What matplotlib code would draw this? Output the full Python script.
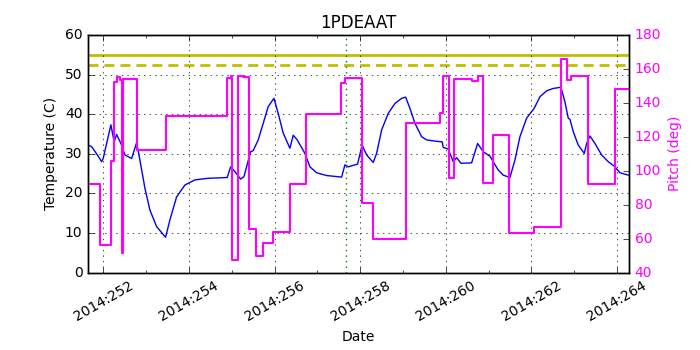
import numpy as np
import matplotlib
matplotlib.use('Agg')
import matplotlib.pyplot as plt
from matplotlib.ticker import MultipleLocator, FuncFormatter

plt.style.use('classic')
plt.rcParams['figure.facecolor'] = 'white'
plt.rcParams['savefig.facecolor'] = 'white'
plt.rcParams['font.size'] = 10

# temperature (1PDEAAT), day of year 2014
temp_days = [251.645, 251.724, 251.879, 251.958, 251.995, 252.175, 252.252, 252.308,
             252.425, 252.502, 252.659, 252.776, 252.853, 252.970, 253.086, 253.243,
             253.453, 253.554, 253.710, 253.904, 254.138, 254.449, 254.893, 254.972,
             255.072, 255.206, 255.283, 255.439, 255.500, 255.617, 255.734, 255.850,
             255.984, 256.084, 256.201, 256.357, 256.435, 256.528, 256.708, 256.825,
             256.981, 257.215, 257.565, 257.643, 257.720, 257.939, 258.044, 258.150,
             258.304, 258.383, 258.500, 258.654, 258.811, 258.967, 259.061, 259.161,
             259.278, 259.435, 259.551, 259.745, 259.916, 259.939, 260.056, 260.173,
             260.252, 260.353, 260.603, 260.743, 260.874, 261.030, 261.107, 261.224,
             261.341, 261.498, 261.614, 261.731, 261.888, 262.065, 262.199, 262.355,
             262.509, 262.689, 262.783, 262.860, 262.900, 262.977, 263.093, 263.234,
             263.290, 263.367, 263.484, 263.640, 263.794, 263.951, 264.068, 264.262]
temp_vals = [32.2, 31.8, 29.4, 28.0, 28.8, 37.3, 33.0, 34.9,
             32.2, 29.7, 28.8, 32.8, 28.4, 21.3, 15.8, 11.6,
             8.9, 13.3, 19.1, 22.1, 23.4, 23.8, 24.0, 26.7,
             25.5, 23.6, 24.2, 30.5, 30.8, 33.5, 37.7, 41.9,
             44.0, 40.2, 35.2, 31.4, 34.7, 33.5, 30.1, 26.7,
             25.2, 24.5, 24.1, 27.2, 26.7, 27.4, 32.2, 29.7,
             27.8, 30.1, 36.0, 40.2, 42.7, 44.0, 44.3, 41.5,
             37.7, 34.3, 33.5, 33.2, 33.0, 31.6, 31.2, 28.0,
             29.0, 27.6, 27.7, 32.6, 30.5, 29.4, 28.0, 25.9,
             24.6, 24.0, 28.4, 34.3, 39.0, 41.5, 44.4, 45.9,
             46.5, 46.8, 43.1, 39.0, 38.7, 35.6, 32.2, 30.1,
             32.6, 34.5, 32.6, 29.7, 28.0, 26.7, 25.2, 24.6]

# pitch steps (start day, value)
pitch_days = [251.636, 251.918, 252.175, 252.252, 252.308, 252.379, 252.425, 252.449,
              252.790, 253.453, 254.893, 254.972, 255.002, 255.150, 255.266, 255.407,
              255.563, 255.720, 255.967, 256.357, 256.731, 257.549, 257.643, 258.047,
              258.304, 259.061, 259.862, 259.939, 260.079, 260.189, 260.603, 260.743,
              260.860, 261.107, 261.481, 262.065, 262.689, 262.836, 262.916, 263.327,
              263.944, 264.280]
pitch_vals = [92.3, 56.2, 105.9, 152.1, 155.4, 153.5, 51.7, 154.1,
              112.2, 132.3, 154.8, 156.0, 47.4, 156.0, 155.1, 65.8,
              49.9, 57.6, 63.9, 92.2, 133.3, 151.9, 154.8, 81.1,
              59.9, 128.0, 134.2, 155.8, 95.9, 153.9, 152.9, 156.0,
              92.6, 120.9, 63.1, 67.0, 166.0, 153.5, 155.8, 92.2,
              148.0, 148.0]

planning_limit = 55.0
caution_limit = 52.5
marker_day = 257.66
xmin, xmax = 251.64, 264.28

fig = plt.figure(figsize=(7, 3.5), dpi=100)
ax = fig.add_axes([0.1257, 0.2214, 0.7729, 0.6786])

ax.plot(temp_days, temp_vals, color='b', lw=1.0)
ax.axhline(planning_limit, color='y', lw=2.0)
ax.axhline(caution_limit, color='y', lw=2.0, linestyle='--', dashes=(7.2, 4.3))
ax.axvline(marker_day, color='g', lw=1.0, linestyle=':')
ax.set_xlim(xmin, xmax)
ax.set_ylim(0, 60)
ax.set_yticks(np.arange(0, 61, 10))
ax.xaxis.set_major_locator(MultipleLocator(2))
ax.xaxis.set_minor_locator(MultipleLocator(1))
ax.xaxis.set_major_formatter(FuncFormatter(lambda v, p: '2014:%03d' % int(round(v))))
ax.grid(True, which='major')
ax.set_title('1PDEAAT')
ax.set_xlabel('Date')
ax.set_ylabel('Temperature (C)')
for lbl in ax.get_xticklabels():
    lbl.set_rotation(30)
    lbl.set_ha('center')

ax2 = ax.twinx()
ax2.plot(pitch_days, pitch_vals, color='#ff00ff', lw=1.5, drawstyle='steps-post')
ax2.set_xlim(xmin, xmax)
ax2.set_ylim(40, 180)
ax2.set_yticks(np.arange(40, 181, 20))
ax2.set_ylabel('Pitch (deg)', color='#ff00ff')
for lbl in ax2.get_yticklabels():
    lbl.set_color('#ff00ff')

fig.savefig('out.png', dpi=100)
